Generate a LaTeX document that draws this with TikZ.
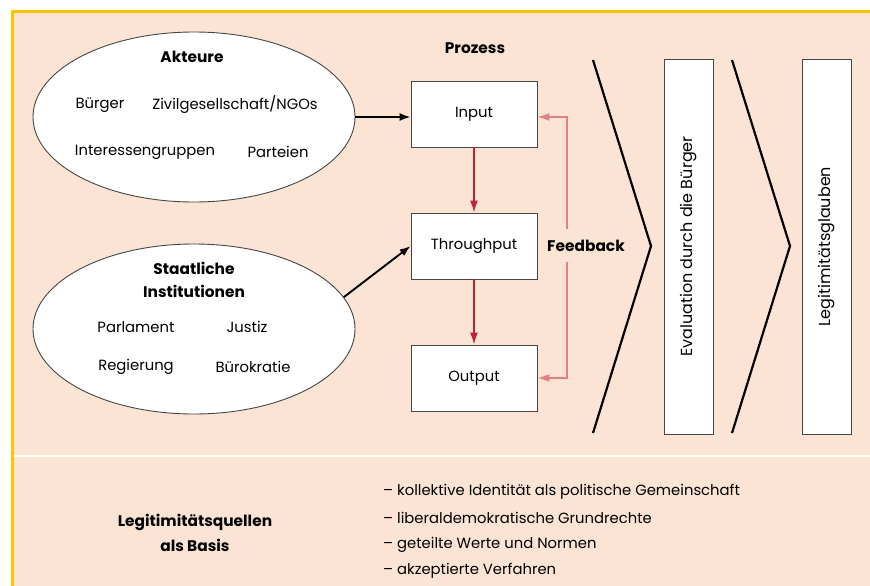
\documentclass[tikz,border=0pt]{standalone}
\usepackage{fontspec}
\setmainfont{Poppins}
\usetikzlibrary{shapes.geometric,arrows.meta}
\definecolor{peach}{RGB}{251,228,212}
\definecolor{gold}{RGB}{255,196,0}
\definecolor{flowred}{RGB}{192,32,58}
\definecolor{fbpink}{RGB}{226,130,128}
\definecolor{edge}{RGB}{70,70,70}
\tikzset{
  txt/.style={font=\fontsize{14.8}{17}\selectfont, inner sep=0pt},
  vtxt/.style={font=\fontsize{16}{18}\selectfont, inner sep=0pt, rotate=90},
  head/.style={font=\fontsize{15.4}{18}\selectfont\bfseries, inner sep=0pt, align=center},
  group/.style={ellipse, draw=edge, line width=0.9pt, fill=white, minimum width=322pt, minimum height=170pt, inner sep=0pt},
  stage/.style={rectangle, draw=edge, line width=0.8pt, fill=white, minimum width=126pt, minimum height=66pt, font=\fontsize{14.8}{17}\selectfont},
  column/.style={rectangle, draw=edge, line width=0.8pt, fill=white, minimum width=49pt, minimum height=375pt},
  feed/.style={black, line width=1.9pt, -{Latex[length=11pt,width=8pt]}},
  flow/.style={flowred, line width=1.8pt, -{Latex[length=12pt,width=8pt]}},
  fb/.style={fbpink, line width=1.8pt, -{Latex[length=12pt,width=8pt]}},
  chevron/.style={black, line width=2.2pt, line join=miter}
}
\begin{document}
\begin{tikzpicture}[x=1pt,y=-1pt]
  % page and panel
  \useasboundingbox (0,0) rectangle (870,586);
  \fill[white] (0,0) rectangle (870,586);
  \fill[peach] (12,12) rectangle (870,586);
  \draw[gold, line width=3pt] (12,586) -- (12,12) -- (870,12);
  \draw[white, line width=2.5pt] (13.5,456) -- (870,456);

  % actors
  \node[group] (akteure) at (194,117) {};
  \node[head] (akteureT) at (192,57) {Akteure};
  \node[txt] (buerger) at (100,105) {Bürger};
  \node[txt] (zivil) at (235,105) {Zivilgesellschaft/NGOs};
  \node[txt] (interessen) at (145,152) {Interessengruppen};
  \node[txt] (parteien) at (278,152) {Parteien};

  % state institutions
  \node[group] (staat) at (194,329) {};
  \node[head] (staatT) at (194,280) {Staatliche\\[5pt]Institutionen};
  \node[txt] (parlament) at (136,327) {Parlament};
  \node[txt] (justiz) at (247,327) {Justiz};
  \node[txt] (regierung) at (136,367) {Regierung};
  \node[txt] (buero) at (253,367) {Bürokratie};

  % process
  \node[head] (prozess) at (475,48) {Prozess};
  \node[stage] (input) at (474,114) {Input};
  \node[stage] (through) at (474,246) {Throughput};
  \node[stage] (output) at (474,378) {Output};
  \node[head] (feedback) at (586,246) {Feedback};

  \draw[feed] (akteure.east) -- (akteure.east -| input.west);
  \draw[feed] (staat.12.5) -- (through.west);
  \draw[flow] (input) -- (through);
  \draw[flow] (through) -- (output);

  \coordinate (fbtop) at (567,229);
  \coordinate (fbbot) at (567,262);
  \draw[fb] (fbtop) |- ([yshift=-3pt]input.east);
  \draw[fb] (fbbot) |- (output.east);

  % chevrons and evaluation columns
  \draw[chevron] (593,60) -- (651,246) -- (593,433);
  \draw[chevron] (732,60) -- (790,246) -- (732,433);
  \node[column] (eval) at (688.5,246.5) {};
  \node[vtxt] (evalT) at (eval.center) {Evaluation durch die Bürger};
  \node[column] (glaube) at (826.5,246.5) {};
  \node[vtxt] (glaubeT) at (glaube.center) {Legitimitätsglauben};

  % sources of legitimacy
  \node[head] (quellen) at (195,533) {Legitimitätsquellen\\[7pt]als Basis};
  \node[txt, anchor=west] (q1) at (383,492) {– kollektive Identität als politische Gemeinschaft};
  \node[txt, anchor=west] (q2) at (383,518) {– liberaldemokratische Grundrechte};
  \node[txt, anchor=west] (q3) at (383,545) {– geteilte Werte und Normen};
  \node[txt, anchor=west] (q4) at (383,571) {– akzeptierte Verfahren};
\end{tikzpicture}
\end{document}
